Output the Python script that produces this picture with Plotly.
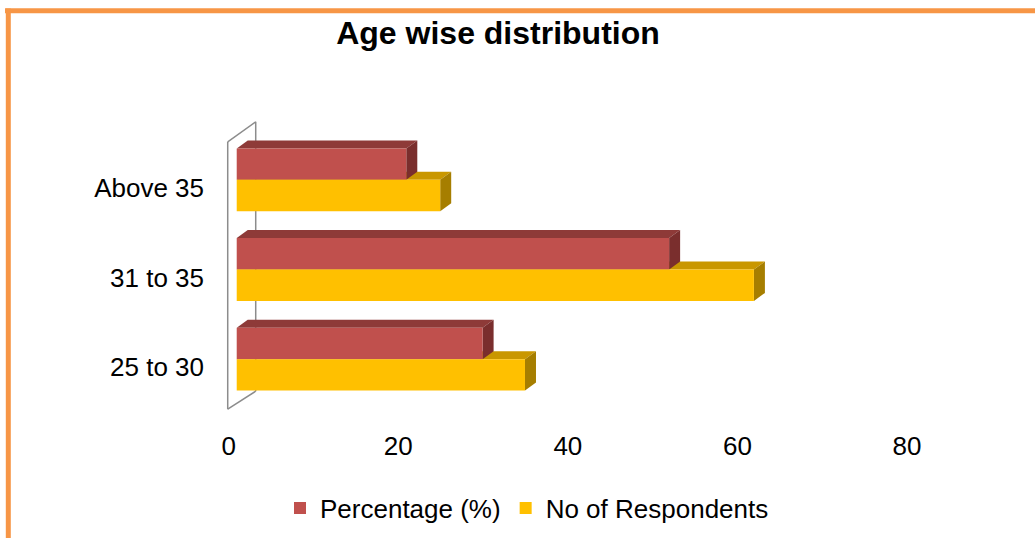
import plotly.graph_objects as go

# ---- data ----
categories = ["25 to 30", "31 to 35", "Above 35"]
percentage = [29, 51, 20]
respondents = [34, 61, 24]
series_names = ["Percentage (%)", "No of Respondents"]
x_ticks = [0, 20, 40, 60, 80]

# ---- layout constants ----
W, H = 1035, 538
ML, MR, MT, MB = 224, 120, 117, 125
X_RANGE = [-1.5, 80]
Y_RANGE = [-0.6, 2.7]
BAR_H = 0.35
PW, PH = W - ML - MR, H - MT - MB
px_x = PW / (X_RANGE[1] - X_RANGE[0])
px_y = PH / (Y_RANGE[1] - Y_RANGE[0])
DX = 11 / px_x   # 3D depth offset in data units
DY = 8 / px_y

RED, RED_TOP, RED_SIDE = "#C0504D", "#8E3A38", "#7A2E2D"
YEL, YEL_TOP, YEL_SIDE = "#FFC000", "#C99700", "#A67E00"
FONT = "Liberation Sans, Arial, sans-serif"
FS = 26

ypos = list(range(len(categories)))

fig = go.Figure()
fig.add_trace(go.Bar(
    y=ypos, x=percentage, orientation="h", name=series_names[0],
    width=BAR_H, offset=0, marker=dict(color=RED, line=dict(width=0)),
))
fig.add_trace(go.Bar(
    y=ypos, x=respondents, orientation="h", name=series_names[1],
    width=BAR_H, offset=-BAR_H, marker=dict(color=YEL, line=dict(width=0)),
))

def poly(pts):
    return "M" + "L".join(f"{x},{y}" for x, y in pts) + "Z"

shapes = []
# side wall (3D frame)
fx = -9 / px_x
bx = fx + 28 / px_x
f_top, f_bot = 2 + 38 / px_y, -50 / px_y
b_top, b_bot = f_top + 20 / px_y, f_bot + 18 / px_y
wall_line = dict(color="#8c8c8c", width=1.5)
for (x0, y0, x1, y1) in [(fx, f_bot, fx, f_top), (fx, f_top, bx, b_top),
                         (bx, b_top, bx, b_bot), (fx, f_bot, bx, b_bot)]:
    shapes.append(dict(type="line", xref="x", yref="y", x0=x0, y0=y0, x1=x1, y1=y1,
                       line=wall_line, layer="below"))

# 3D faces: yellow first, then red
for vals, off, top_c, side_c in [(respondents, -BAR_H, YEL_TOP, YEL_SIDE),
                                 (percentage, 0, RED_TOP, RED_SIDE)]:
    for c, v in zip(ypos, vals):
        y0 = c + off
        y1 = y0 + BAR_H
        top = poly([(0, y1), (v, y1), (v + DX, y1 + DY), (DX, y1 + DY)])
        side = poly([(v, y0), (v, y1), (v + DX, y1 + DY), (v + DX, y0 + DY)])
        shapes.append(dict(type="path", xref="x", yref="y", path=top,
                           fillcolor=top_c, line=dict(width=0), layer="below"))
        shapes.append(dict(type="path", xref="x", yref="y", path=side,
                           fillcolor=side_c, line=dict(width=0), layer="below"))

# orange frame (top and left)
def xp(p):
    return (p - ML) / PW
def yp(p):
    return (H - MB - p) / PH
ORANGE = "#F79646"
shapes.append(dict(type="line", xref="paper", yref="paper", x0=xp(5), x1=xp(W + 5),
                   y0=yp(10.8), y1=yp(10.8), line=dict(color=ORANGE, width=5)))
shapes.append(dict(type="line", xref="paper", yref="paper", x0=xp(8.3), x1=xp(8.3),
                   y0=yp(8.5), y1=yp(H + 5), line=dict(color=ORANGE, width=5)))

fig.update_layout(
    width=W, height=H,
    margin=dict(l=ML, r=MR, t=MT, b=MB),
    paper_bgcolor="white", plot_bgcolor="white",
    barmode="overlay",
    shapes=shapes,
    title=dict(text="<b>Age wise distribution</b>", x=498 / W, xref="container",
               xanchor="center", y=1 - 33 / H, yref="container", yanchor="middle",
               font=dict(family=FONT, size=32, color="black")),
    font=dict(family=FONT, size=FS, color="black"),
    xaxis=dict(range=X_RANGE, tickvals=x_ticks, showgrid=False, zeroline=False,
               showline=False, ticks="", ticklabelshift=-8, ticklabelstandoff=15,
               tickfont=dict(size=FS)),
    yaxis=dict(range=Y_RANGE, tickvals=ypos, ticktext=categories, showgrid=False,
               zeroline=False, showline=False, ticks="", ticklabelshift=8,
               ticklabelstandoff=19, tickfont=dict(size=FS)),
    legend=dict(orientation="h", xref="container", yref="container",
                x=280 / W, xanchor="left", y=1 - 508 / H, yanchor="middle",
                itemwidth=30, font=dict(size=FS), bgcolor="rgba(0,0,0,0)"),
    showlegend=True,
)

fig.write_html("out.html", config={"displayModeBar": False},
               post_script="document.body.style.margin='0';")
